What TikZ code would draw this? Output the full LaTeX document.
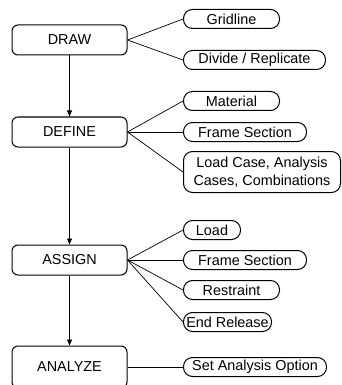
\documentclass[tikz,border=0pt]{standalone}
\usepackage{fontspec}
\setmainfont{Liberation Sans}
\usetikzlibrary{arrows.meta}

\tikzset{
    stage/.style={draw, line width=1pt, rounded corners=6pt, minimum width=115pt, minimum height=30pt, inner sep=0pt},
    task/.style={draw, line width=1pt, rounded corners=9pt, anchor=west, minimum height=19pt, inner sep=0pt, align=center},
    link/.style={line width=0.7pt},
    flow/.style={line width=0.8pt, -{Triangle[length=6pt,width=5pt]}}
}

\begin{document}
\begin{tikzpicture}[x=1pt, y=-1pt, font=\fontsize{14.4}{18}\selectfont]
    \useasboundingbox (0,0) rectangle (341,385);

    % main steps
    \node[stage] (draw)    at (69.5,40)  {DRAW};
    \node[stage] (define)  at (69.5,132) {DEFINE};
    \node[stage] (assign)  at (69.5,260) {ASSIGN};
    \node[stage, minimum height=42pt] (analyze) at (69.5,367) {ANALYZE};

    % flow
    \draw[flow] (draw) -- (define);
    \draw[flow] (define) -- (assign);
    \draw[flow] (assign) -- (analyze);

    % draw tasks
    \node[task, minimum width=96pt]  (grid)   at (183,19)  {Gridline};
    \node[task, minimum width=142pt] (divide) at (183,60)  {Divide / Replicate};

    % define tasks
    \node[task, minimum width=96pt]  (mat)    at (183,101) {Material};
    \node[task, minimum width=123pt] (frame)  at (183,132) {Frame Section};
    \node[task, minimum width=157pt, minimum height=41pt] (cases) at (183,172) {Load Case, Analysis\\Cases, Combinations};

    % assign tasks
    \node[task, minimum width=57pt]  (load)    at (183,230) {Load};
    \node[task, minimum width=123pt] (aframe)  at (183,260) {Frame Section};
    \node[task, minimum width=96pt]  (restr)   at (183,290) {Restraint};
    \node[task, minimum width=88pt]  (release) at (183,322) {End Release};

    % analyze task
    \node[task, minimum width=143pt] (option) at (183,367) {Set Analysis Option};

    % links
    \draw[link] (draw.east) -- (grid.west);
    \draw[link] (draw.east) -- (divide.west);
    \draw[link] (define.east) -- (mat.west);
    \draw[link] (define.east) -- (frame.west);
    \draw[link] (define.east) -- (cases.west);
    \draw[link] (assign.east) -- (load.west);
    \draw[link] (assign.east) -- (aframe.west);
    \draw[link] (assign.east) -- (restr.west);
    \draw[link] (assign.east) -- (release.west);
    \draw[link] (analyze.east) -- (option.west);
\end{tikzpicture}
\end{document}
